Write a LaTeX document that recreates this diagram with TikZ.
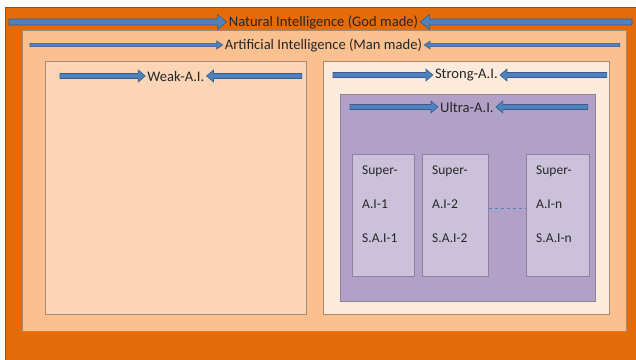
\documentclass[tikz,border=0pt]{standalone}
\usepackage{fontspec}
\setmainfont{Carlito}
\usetikzlibrary{calc}
\usetikzlibrary{positioning}

\definecolor{natorange}{HTML}{E36C09}
\definecolor{artorange}{HTML}{FAC090}
\definecolor{weakpeach}{HTML}{FBD5B5}
\definecolor{strongcream}{HTML}{FDEADA}
\definecolor{ultrapurple}{HTML}{B2A1C7}
\definecolor{superlilac}{HTML}{CCC1DA}
\definecolor{arrowblue}{HTML}{4F81BD}
\definecolor{arrowedge}{HTML}{385D8A}
\definecolor{boxedge}{HTML}{A8896F}
\definecolor{purpleedge}{HTML}{8E819E}

\tikzset{
  box/.style={rectangle, draw=boxedge, line width=0.8pt, anchor=north west, inner sep=0pt},
  superbox/.style={box, draw=purpleedge, fill=superlilac, minimum height=122pt},
  title/.style={font=\fontsize{14.6}{17}\selectfont, text=black!85, inner sep=2pt},
  supertext/.style={font=\fontsize{13.5}{34}\selectfont, text=black!85, align=left, anchor=north west, inner sep=0pt},
  arrowbody/.style={fill=arrowblue, draw=arrowedge, line width=0.6pt},
  dashline/.style={draw=arrowblue, dashed, line width=0.8pt}
}

% block arrow: tail, tip, half shaft, half head, head length
\newcommand{\blockarrow}[5]{%
  \path[arrowbody] let \p1=(#1), \p2=(#2), \n1={ifthenelse(\x2>\x1,1,-1)} in
    (\x1,{\y2+#3}) -- ({\x2-(\n1)*#5},{\y2+#3}) -- ({\x2-(\n1)*#5},{\y2+#4}) -- (\x2,\y2)
    -- ({\x2-(\n1)*#5},{\y2-#4}) -- ({\x2-(\n1)*#5},{\y2-#3}) -- (\x1,{\y2-#3}) -- cycle;}

\begin{document}
\begin{tikzpicture}[x=1pt,y=-1pt]
\fill[white] (0,0) rectangle (636,359);
\useasboundingbox (0,0) rectangle (636,359);
\coordinate (pageright) at (636,0);

% boxes
\node[box, fill=natorange, draw=natorange!70!black, minimum width=640pt, minimum height=360pt] (nat) at (5,7) {};
\node[box, fill=artorange, minimum width=604pt, minimum height=301pt] (art) at (22,30) {};
\node[box, fill=weakpeach, minimum width=261pt, minimum height=253pt] (weak) at (45,61) {};
\node[box, fill=strongcream, minimum width=286pt, minimum height=253pt] (strong) at (323,61) {};
\node[box, fill=ultrapurple, draw=purpleedge, minimum width=255pt, minimum height=207pt] (ultra) at (340,94) {};

% super A.I. boxes
\node[superbox, minimum width=62pt] (s1) at (352,154) {};
\node[superbox, minimum width=66pt] (s2) at (422,154) {};
\node[superbox, minimum width=63pt] (sn) at (526,154) {};
\node[supertext] (s1text) at ($(s1.north west)+(10,12)$) {Super-\\A.I-1\\S.A.I-1};
\node[supertext] (s2text) at ($(s2.north west)+(10,12)$) {Super-\\A.I-2\\S.A.I-2};
\node[supertext] (sntext) at ($(sn.north west)+(10,12)$) {Super-\\A.I-n\\S.A.I-n};
\draw[dashline] ([yshift=7pt]s2.east) -- ([yshift=7pt]sn.west);

% titles
\node[title] (nattitle) at (323.5,22) {Natural Intelligence (God made)};
\node[title] (arttitle) at ($(art.north)+(-1,15)$) {Artificial Intelligence (Man made)};
\node[title] (weaktitle) at ($(weak.north)+(0,15)$) {Weak-A.I.};
\node[title] (strongtitle) at ($(strong.north)+(0,14)$) {Strong-A.I.};
\node[title] (ultratitle) at ($(ultra.north)+(-1,13)$) {Ultra-A.I.};

% arrows
\blockarrow{$(nat.west |- nattitle)+(4,0)$}{nattitle.west}{3pt}{7.5pt}{9pt}
\blockarrow{$(pageright |- nattitle)+(-4,0)$}{nattitle.east}{3pt}{7.5pt}{9pt}
\blockarrow{$(art.west |- arttitle)+(8,0)$}{arttitle.west}{1.6pt}{4pt}{6pt}
\blockarrow{$(art.east |- arttitle)+(-7,0)$}{arttitle.east}{1.6pt}{4pt}{6pt}
\blockarrow{$(weak.west |- weaktitle)+(15,0)$}{weaktitle.west}{2.5pt}{6pt}{7pt}
\blockarrow{$(weak.east |- weaktitle)+(-5,0)$}{weaktitle.east}{2.5pt}{6pt}{7pt}
\blockarrow{$(strong.west |- strongtitle)+(10,0)$}{strongtitle.west}{2.5pt}{6pt}{7pt}
\blockarrow{$(strong.east |- strongtitle)+(-3,0)$}{strongtitle.east}{2.5pt}{6pt}{7pt}
\blockarrow{$(ultra.west |- ultratitle)+(10,0)$}{ultratitle.west}{2.5pt}{6pt}{7pt}
\blockarrow{$(ultra.east |- ultratitle)+(-8,0)$}{ultratitle.east}{2.5pt}{6pt}{7pt}

\end{tikzpicture}
\end{document}
